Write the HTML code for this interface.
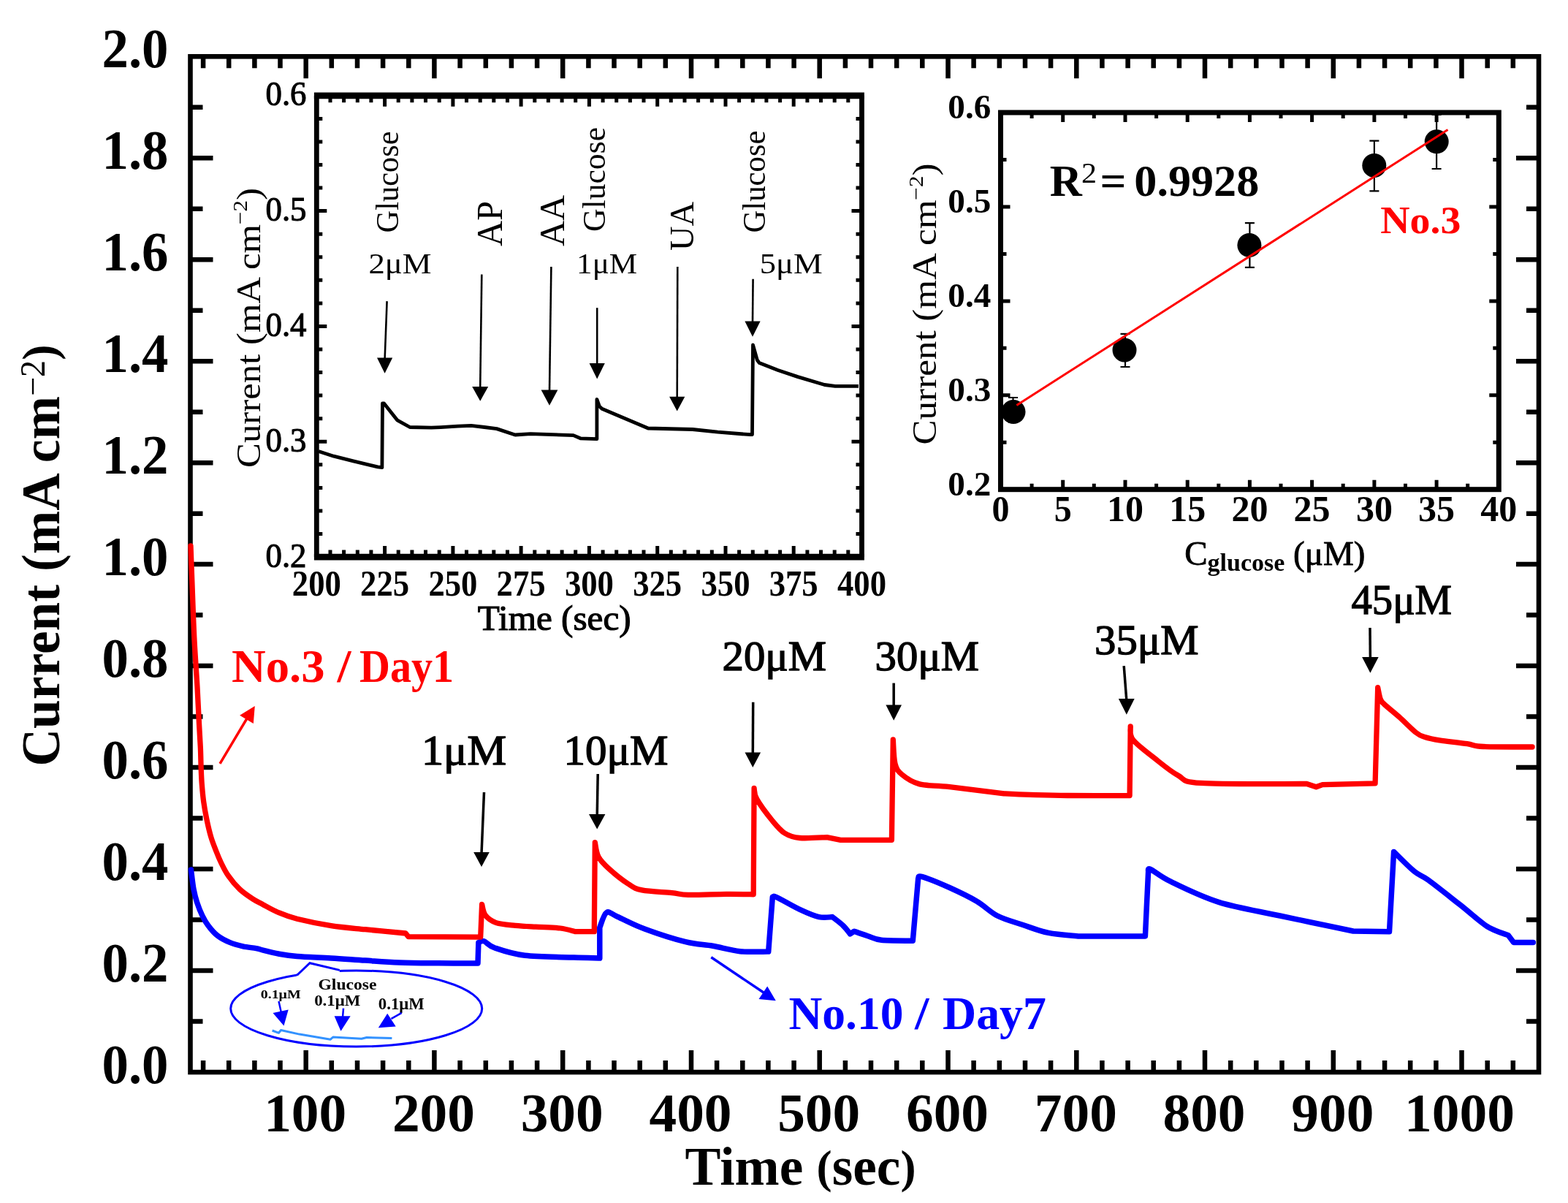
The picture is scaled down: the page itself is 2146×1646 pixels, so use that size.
<!DOCTYPE html>
<html><head><meta charset="utf-8"><title>Current vs Time</title>
<style>
html,body{margin:0;padding:0;background:#fff;}
svg{display:block;font-family:'Liberation Serif', serif;}
</style></head>
<body>
<svg width="2146" height="1646" viewBox="0 0 2146 1646">
<rect width="2146" height="1646" fill="#fff"/>
<rect x="260.5" y="77.3" width="1845.5" height="1389.7" fill="none" stroke="#000" stroke-width="6.6"/>
<path d="M278.1 1467.0v-16M278.1 77.3v16M313.2 1467.0v-16M313.2 77.3v16M348.4 1467.0v-16M348.4 77.3v16M383.5 1467.0v-16M383.5 77.3v16M418.7 1467.0v-30M418.7 77.3v30M453.8 1467.0v-16M453.8 77.3v16M489.0 1467.0v-16M489.0 77.3v16M524.1 1467.0v-16M524.1 77.3v16M559.3 1467.0v-16M559.3 77.3v16M594.4 1467.0v-30M594.4 77.3v30M629.6 1467.0v-16M629.6 77.3v16M664.8 1467.0v-16M664.8 77.3v16M699.9 1467.0v-16M699.9 77.3v16M735.1 1467.0v-16M735.1 77.3v16M770.2 1467.0v-30M770.2 77.3v30M805.4 1467.0v-16M805.4 77.3v16M840.5 1467.0v-16M840.5 77.3v16M875.7 1467.0v-16M875.7 77.3v16M910.8 1467.0v-16M910.8 77.3v16M946.0 1467.0v-30M946.0 77.3v30M981.1 1467.0v-16M981.1 77.3v16M1016.3 1467.0v-16M1016.3 77.3v16M1051.4 1467.0v-16M1051.4 77.3v16M1086.6 1467.0v-16M1086.6 77.3v16M1121.7 1467.0v-30M1121.7 77.3v30M1156.9 1467.0v-16M1156.9 77.3v16M1192.0 1467.0v-16M1192.0 77.3v16M1227.2 1467.0v-16M1227.2 77.3v16M1262.3 1467.0v-16M1262.3 77.3v16M1297.5 1467.0v-30M1297.5 77.3v30M1332.6 1467.0v-16M1332.6 77.3v16M1367.8 1467.0v-16M1367.8 77.3v16M1403.0 1467.0v-16M1403.0 77.3v16M1438.1 1467.0v-16M1438.1 77.3v16M1473.3 1467.0v-30M1473.3 77.3v30M1508.4 1467.0v-16M1508.4 77.3v16M1543.6 1467.0v-16M1543.6 77.3v16M1578.7 1467.0v-16M1578.7 77.3v16M1613.9 1467.0v-16M1613.9 77.3v16M1649.0 1467.0v-30M1649.0 77.3v30M1684.2 1467.0v-16M1684.2 77.3v16M1719.3 1467.0v-16M1719.3 77.3v16M1754.5 1467.0v-16M1754.5 77.3v16M1789.6 1467.0v-16M1789.6 77.3v16M1824.8 1467.0v-30M1824.8 77.3v30M1859.9 1467.0v-16M1859.9 77.3v16M1895.1 1467.0v-16M1895.1 77.3v16M1930.2 1467.0v-16M1930.2 77.3v16M1965.4 1467.0v-16M1965.4 77.3v16M2000.5 1467.0v-30M2000.5 77.3v30M2035.7 1467.0v-16M2035.7 77.3v16M2070.8 1467.0v-16M2070.8 77.3v16M260.5 1397.5h17M2106.0 1397.5h-17M260.5 1328.0h31M2106.0 1328.0h-31M260.5 1258.5h17M2106.0 1258.5h-17M260.5 1189.1h31M2106.0 1189.1h-31M260.5 1119.6h17M2106.0 1119.6h-17M260.5 1050.1h31M2106.0 1050.1h-31M260.5 980.6h17M2106.0 980.6h-17M260.5 911.1h31M2106.0 911.1h-31M260.5 841.6h17M2106.0 841.6h-17M260.5 772.1h31M2106.0 772.1h-31M260.5 702.7h17M2106.0 702.7h-17M260.5 633.2h31M2106.0 633.2h-31M260.5 563.7h17M2106.0 563.7h-17M260.5 494.2h31M2106.0 494.2h-31M260.5 424.7h17M2106.0 424.7h-17M260.5 355.2h31M2106.0 355.2h-31M260.5 285.8h17M2106.0 285.8h-17M260.5 216.3h31M2106.0 216.3h-31M260.5 146.8h17M2106.0 146.8h-17" stroke="#000" stroke-width="6.5" fill="none"/>
<text x="230.5" y="1481.5" font-size="76" font-weight="bold" text-anchor="end" fill="#000" textLength="91.0" lengthAdjust="spacingAndGlyphs">0.0</text>
<text x="230.5" y="1342.5" font-size="76" font-weight="bold" text-anchor="end" fill="#000" textLength="91.0" lengthAdjust="spacingAndGlyphs">0.2</text>
<text x="230.5" y="1203.6" font-size="76" font-weight="bold" text-anchor="end" fill="#000" textLength="91.0" lengthAdjust="spacingAndGlyphs">0.4</text>
<text x="230.5" y="1064.6" font-size="76" font-weight="bold" text-anchor="end" fill="#000" textLength="91.0" lengthAdjust="spacingAndGlyphs">0.6</text>
<text x="230.5" y="925.6" font-size="76" font-weight="bold" text-anchor="end" fill="#000" textLength="91.0" lengthAdjust="spacingAndGlyphs">0.8</text>
<text x="230.5" y="786.6" font-size="76" font-weight="bold" text-anchor="end" fill="#000" textLength="91.0" lengthAdjust="spacingAndGlyphs">1.0</text>
<text x="230.5" y="647.7" font-size="76" font-weight="bold" text-anchor="end" fill="#000" textLength="91.0" lengthAdjust="spacingAndGlyphs">1.2</text>
<text x="230.5" y="508.7" font-size="76" font-weight="bold" text-anchor="end" fill="#000" textLength="91.0" lengthAdjust="spacingAndGlyphs">1.4</text>
<text x="230.5" y="369.7" font-size="76" font-weight="bold" text-anchor="end" fill="#000" textLength="91.0" lengthAdjust="spacingAndGlyphs">1.6</text>
<text x="230.5" y="230.8" font-size="76" font-weight="bold" text-anchor="end" fill="#000" textLength="91.0" lengthAdjust="spacingAndGlyphs">1.8</text>
<text x="230.5" y="91.8" font-size="76" font-weight="bold" text-anchor="end" fill="#000" textLength="91.0" lengthAdjust="spacingAndGlyphs">2.0</text>
<text x="417.7" y="1548.0" font-size="75" font-weight="bold" text-anchor="middle" fill="#000" textLength="113.0" lengthAdjust="spacingAndGlyphs">100</text>
<text x="593.4" y="1548.0" font-size="75" font-weight="bold" text-anchor="middle" fill="#000" textLength="113.0" lengthAdjust="spacingAndGlyphs">200</text>
<text x="769.2" y="1548.0" font-size="75" font-weight="bold" text-anchor="middle" fill="#000" textLength="113.0" lengthAdjust="spacingAndGlyphs">300</text>
<text x="945.0" y="1548.0" font-size="75" font-weight="bold" text-anchor="middle" fill="#000" textLength="113.0" lengthAdjust="spacingAndGlyphs">400</text>
<text x="1120.7" y="1548.0" font-size="75" font-weight="bold" text-anchor="middle" fill="#000" textLength="113.0" lengthAdjust="spacingAndGlyphs">500</text>
<text x="1296.5" y="1548.0" font-size="75" font-weight="bold" text-anchor="middle" fill="#000" textLength="113.0" lengthAdjust="spacingAndGlyphs">600</text>
<text x="1472.3" y="1548.0" font-size="75" font-weight="bold" text-anchor="middle" fill="#000" textLength="113.0" lengthAdjust="spacingAndGlyphs">700</text>
<text x="1648.0" y="1548.0" font-size="75" font-weight="bold" text-anchor="middle" fill="#000" textLength="113.0" lengthAdjust="spacingAndGlyphs">800</text>
<text x="1823.8" y="1548.0" font-size="75" font-weight="bold" text-anchor="middle" fill="#000" textLength="113.0" lengthAdjust="spacingAndGlyphs">900</text>
<text x="1997.5" y="1548.0" font-size="75" font-weight="bold" text-anchor="middle" fill="#000" textLength="151.0" lengthAdjust="spacingAndGlyphs">1000</text>
<text x="937.5" y="1620.7" font-size="73" font-weight="bold" textLength="316" lengthAdjust="spacingAndGlyphs">Time <tspan font-size="63" dy="-3">(</tspan><tspan dy="3">sec</tspan><tspan font-size="63" dy="-3">)</tspan></text>
<text transform="translate(81,1048.5) rotate(-90)" x="0" y="0" font-size="74" font-weight="bold" textLength="577" lengthAdjust="spacingAndGlyphs">Current (mA cm<tspan font-size="48" font-weight="normal" dy="-20">−2</tspan><tspan dy="15" font-size="66">)</tspan></text>
<path d="M261.5 1190.0C262.1 1194.4 263.6 1209.0 265.0 1216.5C266.4 1224.0 267.6 1228.6 269.6 1234.7C271.6 1240.8 274.3 1247.6 276.9 1252.9C279.5 1258.2 281.5 1262.0 285.0 1266.6C288.5 1271.2 292.9 1276.5 297.8 1280.3C302.7 1284.1 308.5 1287.0 314.3 1289.4C320.1 1291.8 326.4 1293.5 332.5 1294.9C338.6 1296.3 346.1 1296.7 350.7 1297.6C355.3 1298.5 354.9 1298.9 360.0 1300.1C365.1 1301.3 373.2 1303.6 381.0 1305.0C388.8 1306.4 394.6 1307.5 406.6 1308.5C418.6 1309.5 437.7 1310.0 453.2 1310.9C468.7 1311.8 484.3 1313.1 499.8 1314.1C515.3 1315.1 529.7 1316.3 546.4 1316.9C563.1 1317.5 582.1 1317.6 600.0 1317.8C617.9 1318.0 645.0 1318.0 654.0 1318.0L654.9 1289.6C656.1 1289.3 658.7 1286.6 662.4 1287.8C666.1 1289.0 668.0 1293.8 677.3 1297.0C686.6 1300.2 700.3 1305.1 718.3 1307.3C736.3 1309.5 768.3 1309.5 785.4 1310.1C802.5 1310.7 814.9 1310.8 820.8 1311.0L820.8 1269.1C822.3 1265.7 826.1 1251.1 830.1 1248.6C834.1 1246.1 836.3 1250.5 845.0 1254.2C853.7 1257.9 866.8 1265.2 882.3 1271.0C897.8 1276.8 922.7 1284.8 938.2 1288.7C953.7 1292.6 963.1 1292.1 975.5 1294.3C987.9 1296.5 1000.1 1300.4 1012.8 1301.7C1025.5 1303.0 1045.2 1302.0 1051.7 1302.1L1057.3 1227.6C1058.2 1227.6 1056.7 1224.8 1062.9 1227.6C1069.1 1230.4 1085.0 1239.9 1094.6 1244.4C1104.2 1248.9 1113.2 1252.9 1120.7 1254.6C1128.2 1256.3 1136.2 1254.6 1139.3 1254.6C1141.8 1256.6 1150.2 1262.8 1154.2 1266.7C1158.2 1270.6 1162.0 1276.0 1163.5 1277.9L1169.1 1274.2C1172.2 1275.3 1181.6 1278.7 1187.8 1280.7C1194.0 1282.7 1196.2 1285.2 1206.4 1286.3C1216.7 1287.4 1242.2 1287.0 1249.3 1287.2L1256.7 1201.5C1257.6 1201.2 1255.2 1197.4 1262.3 1199.6C1269.4 1201.8 1287.2 1208.9 1299.6 1214.5C1312.0 1220.1 1326.0 1226.8 1336.9 1233.2C1347.8 1239.6 1354.5 1247.6 1365.0 1253.0C1375.5 1258.4 1388.3 1261.6 1400.0 1265.5C1411.7 1269.4 1422.2 1273.8 1435.0 1276.4C1447.8 1279.0 1469.8 1280.2 1476.8 1281.0L1567.4 1280.9L1571.6 1192.7C1572.1 1192.2 1569.6 1187.2 1574.8 1189.5C1580.0 1191.8 1587.2 1198.9 1602.7 1206.4C1618.2 1213.9 1643.2 1226.5 1668.0 1234.3C1692.8 1242.1 1721.1 1246.4 1751.8 1253.0C1782.5 1259.6 1835.3 1270.5 1852.0 1274.0L1901.5 1274.8L1907.6 1165.4C1912.2 1169.9 1927.6 1185.7 1935.5 1192.2C1943.4 1198.7 1944.5 1196.6 1955.0 1204.3C1965.5 1212.0 1985.3 1227.8 1998.7 1238.3C2012.1 1248.8 2024.3 1260.6 2035.2 1267.5C2046.1 1274.4 2059.5 1277.7 2064.3 1279.7L2071.6 1289.4L2098.3 1289.4" fill="none" stroke="#0000ff" stroke-width="7.5" stroke-linejoin="round" stroke-linecap="round"/>
<path d="M261.0 747.0C261.3 755.8 262.2 778.5 263.0 800.0C263.8 821.5 264.8 852.7 266.0 876.0C267.2 899.3 268.9 921.0 270.0 940.0C271.1 959.0 271.8 976.0 272.5 990.0C273.2 1004.0 273.9 1013.8 274.4 1024.0C274.8 1034.2 274.9 1042.8 275.2 1051.0C275.5 1059.2 275.7 1065.3 276.3 1073.0C276.9 1080.7 277.6 1088.9 278.7 1097.0C279.8 1105.1 281.3 1113.3 283.0 1121.5C284.7 1129.7 286.8 1138.8 289.0 1146.0C291.2 1153.2 293.8 1159.3 296.0 1165.0C298.2 1170.7 299.7 1174.5 302.4 1180.0C305.1 1185.5 308.1 1192.1 312.4 1198.2C316.6 1204.3 322.3 1211.2 327.9 1216.5C333.5 1221.8 340.8 1226.6 346.2 1230.1C351.6 1233.6 354.2 1234.6 360.0 1237.7C365.8 1240.8 373.2 1245.2 381.0 1248.5C388.8 1251.8 394.6 1254.3 406.6 1257.3C418.6 1260.3 437.7 1264.2 453.2 1266.6C468.7 1269.0 482.8 1270.0 499.8 1271.7C516.8 1273.4 546.0 1276.1 555.2 1277.0L559.0 1281.7L657.7 1282.2L659.6 1237.4C660.4 1239.9 661.0 1248.1 664.2 1252.3C667.5 1256.5 672.3 1260.3 679.1 1262.6C685.9 1264.9 696.2 1265.4 705.2 1266.3C714.2 1267.2 723.0 1267.6 733.2 1268.2C743.5 1268.8 757.7 1268.9 766.7 1270.0C775.7 1271.1 783.9 1273.9 787.3 1274.7L813.3 1274.7L814.3 1152.6C815.1 1155.9 815.8 1166.1 819.0 1172.2C822.2 1178.3 827.0 1182.8 833.8 1189.0C840.6 1195.2 852.5 1204.7 860.0 1209.5C867.5 1214.3 868.7 1215.9 878.6 1217.9C888.5 1219.9 909.0 1220.5 919.6 1221.6C930.2 1222.7 929.6 1224.1 942.0 1224.4C954.4 1224.7 979.2 1223.5 994.1 1223.4C1009.0 1223.3 1025.0 1223.7 1031.2 1223.8L1032.1 1078.5C1032.7 1081.0 1031.6 1086.0 1035.8 1093.4C1040.0 1100.9 1050.9 1115.4 1057.3 1123.2C1063.7 1131.0 1067.8 1136.1 1074.0 1140.0C1080.2 1143.9 1085.0 1145.6 1094.6 1146.5C1104.2 1147.4 1125.6 1145.8 1131.8 1145.6L1150.5 1149.3L1220.4 1149.3L1222.3 1011.9C1222.8 1017.4 1223.0 1036.9 1225.0 1044.9C1227.0 1052.9 1228.8 1055.1 1234.4 1059.8C1240.0 1064.5 1247.7 1070.1 1258.6 1072.9C1269.5 1075.7 1280.3 1074.4 1299.6 1076.6C1318.8 1078.8 1361.7 1084.4 1374.1 1085.9C1380.1 1086.2 1395.5 1087.0 1410.0 1087.4C1424.5 1087.8 1438.3 1088.3 1461.0 1088.5C1483.7 1088.7 1531.9 1088.5 1546.1 1088.5L1547.2 993.8C1547.7 996.8 1544.9 1004.6 1550.4 1011.9C1555.9 1019.2 1569.8 1029.2 1580.1 1037.4C1590.4 1045.6 1601.4 1055.1 1612.0 1060.8C1622.6 1066.5 1614.5 1069.5 1643.9 1071.4C1673.3 1073.4 1764.4 1072.3 1788.5 1072.5L1801.3 1076.8L1810.0 1073.6L1882.1 1071.9L1885.7 940.7C1886.3 943.4 1887.9 953.1 1889.4 957.0C1891.0 960.9 1890.7 960.0 1895.0 964.0C1899.3 968.0 1907.8 974.6 1915.0 981.0C1922.2 987.4 1932.4 997.9 1938.2 1002.5C1944.0 1007.1 1944.7 1006.8 1950.0 1008.5C1955.3 1010.2 1960.3 1011.3 1970.0 1012.8C1979.7 1014.3 1998.0 1016.2 2008.0 1017.7C2018.0 1019.2 2015.2 1020.8 2030.0 1021.5C2044.8 1022.2 2085.9 1021.9 2097.1 1022.0" fill="none" stroke="#ff0000" stroke-width="7.3" stroke-linejoin="round" stroke-linecap="round"/>
<path d="M662.5 1084.0L659.0 1168.0" stroke="#000" stroke-width="3.5" fill="none"/><path d="M659.0 1186.0L648.2 1166.0L669.8 1166.0Z" fill="#000"/>
<path d="M818.2 1059.0L817.2 1116.0" stroke="#000" stroke-width="3.5" fill="none"/><path d="M817.2 1134.5L806.0 1114.0L828.4 1114.0Z" fill="#000"/>
<path d="M1030.7 960.7L1030.3 1031.6" stroke="#000" stroke-width="3.5" fill="none"/><path d="M1030.3 1050.0L1019.5 1029.6L1041.1 1029.6Z" fill="#000"/>
<path d="M1223.2 934.6L1223.2 966.4" stroke="#000" stroke-width="3.5" fill="none"/><path d="M1223.2 985.8L1212.4 964.4L1234.0 964.4Z" fill="#000"/>
<path d="M1538.2 911.2L1541.8 958.0" stroke="#000" stroke-width="3.5" fill="none"/><path d="M1541.8 977.8L1530.9 956.0L1552.7 956.0Z" fill="#000"/>
<path d="M1875.0 859.0L1875.4 901.0" stroke="#000" stroke-width="3.5" fill="none"/><path d="M1875.4 920.8L1864.1 899.0L1886.7 899.0Z" fill="#000"/>
<text x="577.0" y="1045.9" font-size="57" text-anchor="start" fill="#000" stroke="#000" stroke-width="1.37" textLength="116.0" lengthAdjust="spacingAndGlyphs">1μM</text>
<text x="771.5" y="1045.9" font-size="57" text-anchor="start" fill="#000" stroke="#000" stroke-width="1.37" textLength="143.0" lengthAdjust="spacingAndGlyphs">10μM</text>
<text x="988.5" y="916.9" font-size="57" text-anchor="start" fill="#000" stroke="#000" stroke-width="1.37" textLength="142.5" lengthAdjust="spacingAndGlyphs">20μM</text>
<text x="1197.5" y="917.0" font-size="57" text-anchor="start" fill="#000" stroke="#000" stroke-width="1.37" textLength="142.5" lengthAdjust="spacingAndGlyphs">30μM</text>
<text x="1498.0" y="895.4" font-size="57" text-anchor="start" fill="#000" stroke="#000" stroke-width="1.37" textLength="142.5" lengthAdjust="spacingAndGlyphs">35μM</text>
<text x="1849.5" y="839.7" font-size="57" text-anchor="start" fill="#000" stroke="#000" stroke-width="1.37" textLength="137.5" lengthAdjust="spacingAndGlyphs">45μM</text>
<text x="317.0" y="932.6" font-size="64" font-weight="bold" text-anchor="start" fill="#ff0000" textLength="127.5" lengthAdjust="spacingAndGlyphs">No.3</text>
<text x="461.5" y="932.6" font-size="64" font-weight="bold" text-anchor="start" fill="#ff0000" textLength="19.0" lengthAdjust="spacingAndGlyphs">/</text>
<text x="492.0" y="932.6" font-size="64" font-weight="bold" text-anchor="start" fill="#ff0000" textLength="129.0" lengthAdjust="spacingAndGlyphs">Day1</text>
<path d="M301 1044.9L338 983" stroke="#ff0000" stroke-width="3.5" fill="none"/><path d="M348.8 966L328.1 978.7L346.8 990.1Z" fill="#ff0000"/>
<text x="1079.5" y="1407.7" font-size="64" font-weight="bold" text-anchor="start" fill="#0000ff" textLength="157.0" lengthAdjust="spacingAndGlyphs">No.10</text>
<text x="1252.0" y="1407.7" font-size="64" font-weight="bold" text-anchor="start" fill="#0000ff" textLength="19.5" lengthAdjust="spacingAndGlyphs">/</text>
<text x="1290.0" y="1407.7" font-size="64" font-weight="bold" text-anchor="start" fill="#0000ff" textLength="142.0" lengthAdjust="spacingAndGlyphs">Day7</text>
<path d="M973.3 1309.8L1048 1360" stroke="#0000ff" stroke-width="3.5" fill="none"/><path d="M1061.8 1369.2L1038.5 1366.9L1050.2 1349.4Z" fill="#0000ff"/>
<ellipse cx="487.7" cy="1380" rx="172" ry="52" fill="none" stroke="#0000ff" stroke-width="3"/>
<path d="M406.3 1338L406.3 1334.5L424 1317.7L464.7 1327.4L464.7 1333Z" fill="#fff"/>
<path d="M406.3 1334.5L424 1317.7L464.7 1327.4" fill="none" stroke="#0000ff" stroke-width="3" stroke-linejoin="miter"/>
<polyline points="372.6,1410 381.5,1413.3 384.5,1409.5 409.8,1415.1 452.3,1422.2 455.8,1419 494.8,1421.3 501.9,1419.5 536.4,1420.4" fill="none" stroke="#3392ff" stroke-width="3" stroke-linejoin="round"/>
<text x="435.5" y="1354.0" font-size="21" font-weight="bold" text-anchor="start" fill="#000" textLength="80.0" lengthAdjust="spacingAndGlyphs">Glucose</text>
<text x="356.7" y="1365.5" font-size="17" font-weight="bold" text-anchor="start" fill="#000" textLength="55.0" lengthAdjust="spacingAndGlyphs">0.1μM</text>
<text x="430.2" y="1376.0" font-size="22" font-weight="bold" text-anchor="start" fill="#000" textLength="63.0" lengthAdjust="spacingAndGlyphs">0.1μM</text>
<text x="517.8" y="1380.6" font-size="23" font-weight="bold" text-anchor="start" fill="#000" textLength="63.0" lengthAdjust="spacingAndGlyphs">0.1μM</text>
<path d="M381.5 1370L385 1386" stroke="#0000ff" stroke-width="2.5"/><path d="M388.5 1403.6L373.5 1385.9L394.7 1381.5Z" fill="#0000ff"/>
<path d="M470 1379.7L469 1392" stroke="#0000ff" stroke-width="2.5"/><path d="M466.5 1410.7L457.6 1390.3L479.7 1390.3Z" fill="#0000ff"/>
<path d="M549.7 1385.9L535.5 1393.9" stroke="#0000ff" stroke-width="2.5"/><path d="M517.8 1406.3L530.2 1386.8L541.7 1404.5Z" fill="#0000ff"/>
<rect x="433.3" y="130.8" width="746.2" height="631.3" fill="#fff" stroke="none"/>
<path d="M429.9 130.8H1182.9M429.9 762.1H1182.9" stroke="#000" stroke-width="8.8"/>
<path d="M433.3 130.8V762.1M1179.5 130.8V762.1" stroke="#000" stroke-width="6.8"/>
<path d="M452.0 762.1v-9.5M452.0 130.8v9.5M470.6 762.1v-9.5M470.6 130.8v9.5M489.3 762.1v-9.5M489.3 130.8v9.5M507.9 762.1v-9.5M507.9 130.8v9.5M526.6 762.1v-15M526.6 130.8v15M545.2 762.1v-9.5M545.2 130.8v9.5M563.9 762.1v-9.5M563.9 130.8v9.5M582.5 762.1v-9.5M582.5 130.8v9.5M601.2 762.1v-9.5M601.2 130.8v9.5M619.9 762.1v-15M619.9 130.8v15M638.5 762.1v-9.5M638.5 130.8v9.5M657.2 762.1v-9.5M657.2 130.8v9.5M675.8 762.1v-9.5M675.8 130.8v9.5M694.5 762.1v-9.5M694.5 130.8v9.5M713.1 762.1v-15M713.1 130.8v15M731.8 762.1v-9.5M731.8 130.8v9.5M750.4 762.1v-9.5M750.4 130.8v9.5M769.1 762.1v-9.5M769.1 130.8v9.5M787.7 762.1v-9.5M787.7 130.8v9.5M806.4 762.1v-15M806.4 130.8v15M825.1 762.1v-9.5M825.1 130.8v9.5M843.7 762.1v-9.5M843.7 130.8v9.5M862.4 762.1v-9.5M862.4 130.8v9.5M881.0 762.1v-9.5M881.0 130.8v9.5M899.7 762.1v-15M899.7 130.8v15M918.3 762.1v-9.5M918.3 130.8v9.5M937.0 762.1v-9.5M937.0 130.8v9.5M955.6 762.1v-9.5M955.6 130.8v9.5M974.3 762.1v-9.5M974.3 130.8v9.5M993.0 762.1v-15M993.0 130.8v15M1011.6 762.1v-9.5M1011.6 130.8v9.5M1030.3 762.1v-9.5M1030.3 130.8v9.5M1048.9 762.1v-9.5M1048.9 130.8v9.5M1067.6 762.1v-9.5M1067.6 130.8v9.5M1086.2 762.1v-15M1086.2 130.8v15M1104.9 762.1v-9.5M1104.9 130.8v9.5M1123.5 762.1v-9.5M1123.5 130.8v9.5M1142.2 762.1v-9.5M1142.2 130.8v9.5M1160.8 762.1v-9.5M1160.8 130.8v9.5M433.3 730.5h8M1179.5 730.5h-8M433.3 699.0h8M1179.5 699.0h-8M433.3 667.4h8M1179.5 667.4h-8M433.3 635.8h8M1179.5 635.8h-8M433.3 604.3h14M1179.5 604.3h-14M433.3 572.7h8M1179.5 572.7h-8M433.3 541.1h8M1179.5 541.1h-8M433.3 509.6h8M1179.5 509.6h-8M433.3 478.0h8M1179.5 478.0h-8M433.3 446.5h14M1179.5 446.5h-14M433.3 414.9h8M1179.5 414.9h-8M433.3 383.3h8M1179.5 383.3h-8M433.3 351.8h8M1179.5 351.8h-8M433.3 320.2h8M1179.5 320.2h-8M433.3 288.6h14M1179.5 288.6h-14M433.3 257.1h8M1179.5 257.1h-8M433.3 225.5h8M1179.5 225.5h-8M433.3 193.9h8M1179.5 193.9h-8M433.3 162.4h8M1179.5 162.4h-8" stroke="#000" stroke-width="5" fill="none"/>
<text x="433.3" y="814.8" font-size="50" font-weight="bold" text-anchor="middle" fill="#000" textLength="67.0" lengthAdjust="spacingAndGlyphs">200</text>
<text x="526.6" y="814.8" font-size="50" font-weight="bold" text-anchor="middle" fill="#000" textLength="67.0" lengthAdjust="spacingAndGlyphs">225</text>
<text x="619.9" y="814.8" font-size="50" font-weight="bold" text-anchor="middle" fill="#000" textLength="67.0" lengthAdjust="spacingAndGlyphs">250</text>
<text x="713.1" y="814.8" font-size="50" font-weight="bold" text-anchor="middle" fill="#000" textLength="67.0" lengthAdjust="spacingAndGlyphs">275</text>
<text x="806.4" y="814.8" font-size="50" font-weight="bold" text-anchor="middle" fill="#000" textLength="67.0" lengthAdjust="spacingAndGlyphs">300</text>
<text x="899.7" y="814.8" font-size="50" font-weight="bold" text-anchor="middle" fill="#000" textLength="67.0" lengthAdjust="spacingAndGlyphs">325</text>
<text x="993.0" y="814.8" font-size="50" font-weight="bold" text-anchor="middle" fill="#000" textLength="67.0" lengthAdjust="spacingAndGlyphs">350</text>
<text x="1086.2" y="814.8" font-size="50" font-weight="bold" text-anchor="middle" fill="#000" textLength="67.0" lengthAdjust="spacingAndGlyphs">375</text>
<text x="1179.5" y="814.8" font-size="50" font-weight="bold" text-anchor="middle" fill="#000" textLength="67.0" lengthAdjust="spacingAndGlyphs">400</text>
<text x="419.5" y="775.6" font-size="47" text-anchor="end" fill="#000" stroke="#000" stroke-width="1.13" textLength="56.0" lengthAdjust="spacingAndGlyphs">0.2</text>
<text x="419.5" y="617.8" font-size="47" text-anchor="end" fill="#000" stroke="#000" stroke-width="1.13" textLength="56.0" lengthAdjust="spacingAndGlyphs">0.3</text>
<text x="419.5" y="460.0" font-size="47" text-anchor="end" fill="#000" stroke="#000" stroke-width="1.13" textLength="56.0" lengthAdjust="spacingAndGlyphs">0.4</text>
<text x="419.5" y="302.1" font-size="47" text-anchor="end" fill="#000" stroke="#000" stroke-width="1.13" textLength="56.0" lengthAdjust="spacingAndGlyphs">0.5</text>
<text x="419.5" y="144.3" font-size="47" text-anchor="end" fill="#000" stroke="#000" stroke-width="1.13" textLength="56.0" lengthAdjust="spacingAndGlyphs">0.6</text>
<text x="653.7" y="862.0" font-size="48.5" text-anchor="start" fill="#000" stroke="#000" stroke-width="1.16" textLength="210.0" lengthAdjust="spacingAndGlyphs">Time (sec)</text>
<text transform="translate(356,640) rotate(-90)" font-size="46" font-weight="normal" textLength="383" lengthAdjust="spacingAndGlyphs">Current (mA cm<tspan font-size="28" dy="-18">−2</tspan><tspan dy="18">)</tspan></text>
<polyline points="436.0,617.5 456.7,624.2 483.5,630.9 516.9,638.9 522.9,639.6 523.5,552.0 525.6,552.0 543.6,574.8 561.0,584.5 590.3,585.2 603.0,584.6 626.7,583.1 644.9,582.4 663.0,584.5 679.8,586.6 705.0,595.0 726.0,593.6 784.7,595.6 794.4,599.8 816.9,600.7 816.9,546.4 820.3,555.9 823.8,559.3 887.0,586.0 947.9,587.5 982.4,591.2 1027.2,594.7 1029.5,594.5 1030.5,472.0 1036.4,492.8 1039.2,496.5 1064.7,506.5 1092.0,515.6 1128.5,526.5 1143.1,528.4 1175.0,528.4" fill="none" stroke="#000" stroke-width="4.8" stroke-linejoin="round"/>
<path d="M529.6 412.1L526.6 491.5" stroke="#000" stroke-width="2.6" fill="none"/><path d="M526.6 510.8L516.0 489.5L537.2 489.5Z" fill="#000"/>
<path d="M659.3 375.6L657.2 531.0" stroke="#000" stroke-width="2.6" fill="none"/><path d="M657.2 548.8L646.2 529.0L668.2 529.0Z" fill="#000"/>
<path d="M754.4 365.0L752.0 535.6" stroke="#000" stroke-width="2.6" fill="none"/><path d="M752.0 554.8L740.6 533.6L763.4 533.6Z" fill="#000"/>
<path d="M817.2 421.2L817.2 499.1" stroke="#000" stroke-width="2.6" fill="none"/><path d="M817.2 518.4L806.6 497.1L827.8 497.1Z" fill="#000"/>
<path d="M927.3 365.0L926.7 544.7" stroke="#000" stroke-width="2.6" fill="none"/><path d="M926.7 562.4L916.1 542.7L937.3 542.7Z" fill="#000"/>
<path d="M1030.6 381.7L1030.0 441.4" stroke="#000" stroke-width="2.6" fill="none"/><path d="M1030.0 460.7L1019.4 439.4L1040.6 439.4Z" fill="#000"/>
<text transform="translate(545.4,318.5) rotate(-90)" font-size="44" font-weight="normal" textLength="139.0" lengthAdjust="spacingAndGlyphs">Glucose</text>
<text transform="translate(827.9,317.0) rotate(-90)" font-size="44" font-weight="normal" textLength="143.0" lengthAdjust="spacingAndGlyphs">Glucose</text>
<text transform="translate(1047.3,318.5) rotate(-90)" font-size="44" font-weight="normal" textLength="140.0" lengthAdjust="spacingAndGlyphs">Glucose</text>
<text transform="translate(686.6,337.0) rotate(-90)" font-size="51" font-weight="normal" textLength="62.0" lengthAdjust="spacingAndGlyphs">AP</text>
<text transform="translate(771.7,337.0) rotate(-90)" font-size="49" font-weight="normal" textLength="70.0" lengthAdjust="spacingAndGlyphs">AA</text>
<text transform="translate(948.6,343.0) rotate(-90)" font-size="46" font-weight="normal" textLength="67.0" lengthAdjust="spacingAndGlyphs">UA</text>
<text x="504.4" y="374.1" font-size="41" font-weight="normal" text-anchor="start" fill="#000" textLength="86.0" lengthAdjust="spacingAndGlyphs">2μM</text>
<text x="789.1" y="374.1" font-size="41" font-weight="normal" text-anchor="start" fill="#000" textLength="83.0" lengthAdjust="spacingAndGlyphs">1μM</text>
<text x="1039.7" y="374.1" font-size="41" font-weight="normal" text-anchor="start" fill="#000" textLength="86.0" lengthAdjust="spacingAndGlyphs">5μM</text>
<rect x="1369.5" y="154.0" width="681.8" height="515.7" fill="#fff" stroke="#000" stroke-width="7"/>
<path d="M1412.1 669.7v-8M1412.1 154.0v8M1454.7 669.7v-13M1454.7 154.0v13M1497.3 669.7v-8M1497.3 154.0v8M1540.0 669.7v-13M1540.0 154.0v13M1582.6 669.7v-8M1582.6 154.0v8M1625.2 669.7v-13M1625.2 154.0v13M1667.8 669.7v-8M1667.8 154.0v8M1710.4 669.7v-13M1710.4 154.0v13M1753.0 669.7v-8M1753.0 154.0v8M1795.6 669.7v-13M1795.6 154.0v13M1838.2 669.7v-8M1838.2 154.0v8M1880.9 669.7v-13M1880.9 154.0v13M1923.5 669.7v-8M1923.5 154.0v8M1966.1 669.7v-13M1966.1 154.0v13M2008.7 669.7v-8M2008.7 154.0v8M1369.5 605.2h8M2051.3 605.2h-8M1369.5 540.8h13M2051.3 540.8h-13M1369.5 476.3h8M2051.3 476.3h-8M1369.5 411.9h13M2051.3 411.9h-13M1369.5 347.4h8M2051.3 347.4h-8M1369.5 282.9h13M2051.3 282.9h-13M1369.5 218.5h8M2051.3 218.5h-8" stroke="#000" stroke-width="5" fill="none"/>
<text x="1369.5" y="713.0" font-size="50" font-weight="bold" text-anchor="middle" fill="#000" textLength="24.0" lengthAdjust="spacingAndGlyphs">0</text>
<text x="1454.7" y="713.0" font-size="50" font-weight="bold" text-anchor="middle" fill="#000" textLength="24.0" lengthAdjust="spacingAndGlyphs">5</text>
<text x="1540.0" y="713.0" font-size="50" font-weight="bold" text-anchor="middle" fill="#000" textLength="50.0" lengthAdjust="spacingAndGlyphs">10</text>
<text x="1625.2" y="713.0" font-size="50" font-weight="bold" text-anchor="middle" fill="#000" textLength="50.0" lengthAdjust="spacingAndGlyphs">15</text>
<text x="1710.4" y="713.0" font-size="50" font-weight="bold" text-anchor="middle" fill="#000" textLength="50.0" lengthAdjust="spacingAndGlyphs">20</text>
<text x="1795.6" y="713.0" font-size="50" font-weight="bold" text-anchor="middle" fill="#000" textLength="50.0" lengthAdjust="spacingAndGlyphs">25</text>
<text x="1880.9" y="713.0" font-size="50" font-weight="bold" text-anchor="middle" fill="#000" textLength="50.0" lengthAdjust="spacingAndGlyphs">30</text>
<text x="1966.1" y="713.0" font-size="50" font-weight="bold" text-anchor="middle" fill="#000" textLength="50.0" lengthAdjust="spacingAndGlyphs">35</text>
<text x="2051.3" y="713.0" font-size="50" font-weight="bold" text-anchor="middle" fill="#000" textLength="50.0" lengthAdjust="spacingAndGlyphs">40</text>
<text x="1356.3" y="677.7" font-size="47" font-weight="bold" text-anchor="end" fill="#000" textLength="59.0" lengthAdjust="spacingAndGlyphs">0.2</text>
<text x="1356.3" y="548.8" font-size="47" font-weight="bold" text-anchor="end" fill="#000" textLength="59.0" lengthAdjust="spacingAndGlyphs">0.3</text>
<text x="1356.3" y="419.9" font-size="47" font-weight="bold" text-anchor="end" fill="#000" textLength="59.0" lengthAdjust="spacingAndGlyphs">0.4</text>
<text x="1356.3" y="290.9" font-size="47" font-weight="bold" text-anchor="end" fill="#000" textLength="59.0" lengthAdjust="spacingAndGlyphs">0.5</text>
<text x="1356.3" y="162.0" font-size="47" font-weight="bold" text-anchor="end" fill="#000" textLength="59.0" lengthAdjust="spacingAndGlyphs">0.6</text>
<path d="M1386.5 544V578M1380.0 544h13M1380.0 578h13M1540.0 456.9V502M1533.5 456.9h13M1533.5 502h13M1710.4 305.1V365.8M1703.9 305.1h13M1703.9 365.8h13M1880.9 192.7V261.3M1874.4 192.7h13M1874.4 261.3h13M1966.1 157V231M1959.6 157h13M1959.6 231h13" stroke="#000" stroke-width="2.2" fill="none"/>
<circle cx="1387" cy="563.5" r="16.5" fill="#000"/>
<circle cx="1539" cy="478.9" r="16.5" fill="#000"/>
<circle cx="1709.9" cy="335.5" r="16.5" fill="#000"/>
<circle cx="1880.8" cy="226.4" r="16.5" fill="#000"/>
<circle cx="1966.2" cy="193.8" r="16.5" fill="#000"/>
<path d="M1391.4 554.4L1981.5 177.4" stroke="#ff0000" stroke-width="3"/>
<text x="1436.7" y="268.4" font-size="61" font-weight="bold" text-anchor="start" fill="#000">R</text>
<text x="1480.0" y="250.4" font-size="40" font-weight="normal" text-anchor="start" fill="#000" textLength="21.0" lengthAdjust="spacingAndGlyphs">2</text>
<text x="1505.5" y="268.4" font-size="61" font-weight="bold" text-anchor="start" fill="#000" textLength="36.0" lengthAdjust="spacingAndGlyphs">=</text>
<text x="1552.3" y="268.4" font-size="61" font-weight="bold" text-anchor="start" fill="#000" textLength="171.0" lengthAdjust="spacingAndGlyphs">0.9928</text>
<text x="1889.3" y="318.6" font-size="53" font-weight="bold" text-anchor="start" fill="#ff0000" textLength="110.0" lengthAdjust="spacingAndGlyphs">No.3</text>
<text transform="translate(1281,608.5) rotate(-90)" font-size="46" font-weight="normal" textLength="385" lengthAdjust="spacingAndGlyphs">Current (mA cm<tspan font-size="28" dy="-18">−2</tspan><tspan dy="18">)</tspan></text>
<text x="1621.2" y="773.1" font-size="47" stroke="#000" stroke-width="0.9">C<tspan font-size="34" font-weight="bold" stroke="none" dy="8">glucose</tspan><tspan dy="-8"> (μM)</tspan></text>
</svg>
</body></html>
